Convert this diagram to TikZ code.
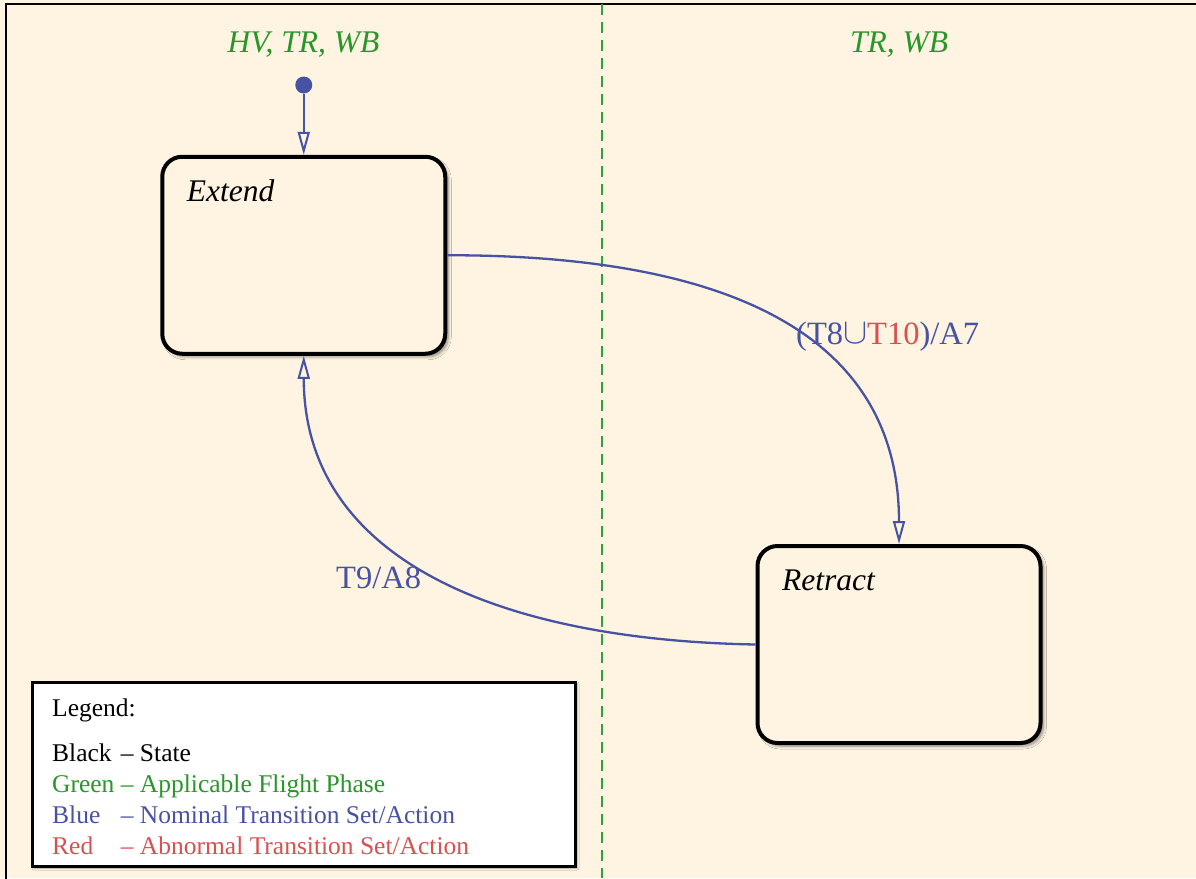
\documentclass[tikz,border=0pt]{standalone}
\usepackage{fontspec}
\usepackage{calc}
\setmainfont{Liberation Serif}
\usetikzlibrary{arrows.meta,shadows.blur}

\definecolor{paper}{RGB}{254,244,225}
\definecolor{transblue}{RGB}{72,82,163}
\definecolor{abnred}{RGB}{217,80,80}
\definecolor{phasegreen}{RGB}{40,150,40}
\definecolor{dashgreen}{RGB}{40,165,60}

\tikzset{
  statebox/.style={draw=black, line width=4pt, rounded corners=20pt,
    fill=paper, minimum width=283pt, minimum height=197pt, inner sep=0pt,
    blur shadow={shadow xshift=3pt, shadow yshift=-3pt, shadow opacity=45,
      shadow blur steps=6, shadow blur radius=3pt}},
  statename/.style={anchor=base west, inner sep=0pt,
    font=\fontsize{31.5}{38}\selectfont\itshape},
  phase/.style={anchor=base, inner sep=0pt, text=phasegreen,
    font=\fontsize{31.5}{38}\selectfont\itshape},
  trans/.style={draw=transblue, line width=2.3pt,
    -{Triangle[open, length=23pt, width=12pt, line width=2pt]}},
  translabel/.style={anchor=base west, inner sep=0pt, text=transblue,
    font=\fontsize{32.5}{39}\selectfont},
  initdot/.style={circle, fill=transblue, minimum size=17pt, inner sep=0pt},
  phaseline/.style={draw=dashgreen, line width=2.6pt, dash pattern=on 11pt off 7pt},
  legendbox/.style={draw=black, line width=3pt, fill=white,
    minimum width=543pt, minimum height=184pt, inner sep=0pt,
    blur shadow={shadow xshift=2pt, shadow yshift=-2pt, shadow opacity=35,
      shadow blur steps=4, shadow blur radius=2pt}},
  legendline/.style={anchor=base west, inner sep=0pt,
    font=\fontsize{25.5}{30}\selectfont},
}
% colour names in the legend share one column width
\newcommand{\keyword}[1]{\makebox[\widthof{Green\ }][l]{#1}}
\newcommand{\bigcupsign}{\raisebox{0.02em}{\scalebox{1.45}{$\cup$}}}

\begin{document}
\begin{tikzpicture}[x=1pt, y=-1pt]
  % page and frame
  \fill[paper] (0,0) rectangle (1196,878);
  \useasboundingbox (0,0) rectangle (1196,878);
  \draw[line width=2pt] (6,890) -- (6,4) -- (1205,4);

  % flight-phase divider
  \draw[phaseline] (602,4) -- (602,878);
  \node[phase] (phaseL) at (303.5,52) {HV, TR, WB};
  \node[phase] (phaseR) at (899,52) {TR, WB};

  % states
  \node[statebox] (ext) at (303.75,255.25) {};
  \node[statebox] (ret) at (899,644.5) {};
  \node[statename] (extname) at ([xshift=26.5pt, yshift=-46.5pt]ext.north west) {Extend};
  \node[statename] (retname) at ([xshift=26.5pt, yshift=-46.5pt]ret.north west) {Retract};

  % initial state
  \node[initdot] (init) at (303.75,85) {};
  \draw[trans] (init) -- (ext.north);

  % transitions
  \draw[trans] (ext.east) .. controls (720,255) and (899,330) .. (ret.north);
  \draw[trans] (ret.west) .. controls (500,640) and (303.75,560) .. (ext.south);
  \node[translabel] (lab1) at (796,344) {(T8\bigcupsign\textcolor{abnred}{T10})/A7};
  \node[translabel] (lab2) at (336,588) {T9/A8};

  % legend
  \node[legendbox] (legend) at (303.5,774) {};
  \node[legendline] (lg0) at (52,716.7) {Legend:};
  \node[legendline] (lg1) at (52,761.7) {\keyword{Black}– State};
  \node[legendline, text=phasegreen] (lg2) at (52,792.7) {\keyword{Green}– Applicable Flight Phase};
  \node[legendline, text=transblue] (lg3) at (52,823.3) {\keyword{Blue}– Nominal Transition Set/Action};
  \node[legendline, text=abnred] (lg4) at (52,854.3) {\keyword{Red}– Abnormal Transition Set/Action};
\end{tikzpicture}
\end{document}
